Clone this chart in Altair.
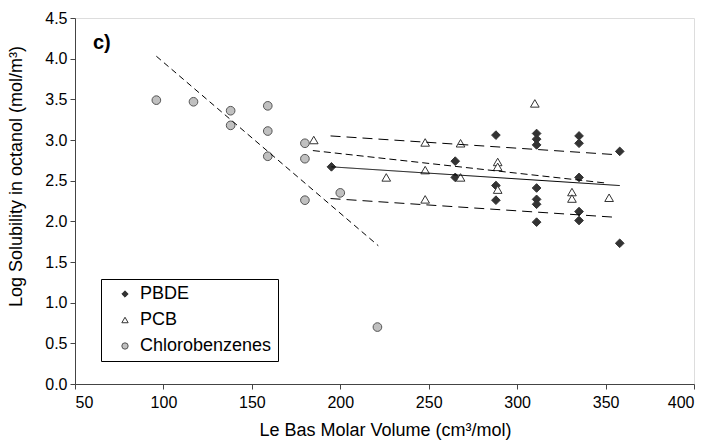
import altair as alt
import pandas as pd

# --- data ---
pbde_x = [195, 265, 265, 288, 288, 288, 311, 311, 311, 311, 311, 311, 311, 335, 335, 335, 335, 335, 358, 358]
pbde_y = [2.67, 2.74, 2.54, 3.06, 2.44, 2.26, 3.08, 3.01, 2.94, 2.41, 2.27, 2.21, 1.99, 3.05, 2.96, 2.54, 2.12, 2.01, 2.86, 1.73]

pcb_x = [185, 226, 248, 248, 248, 268, 268, 289, 289, 289, 310, 331, 331, 352]
pcb_y = [3.00, 2.54, 2.97, 2.63, 2.27, 2.96, 2.54, 2.73, 2.67, 2.39, 3.45, 2.36, 2.28, 2.29]

cb_x = [96, 117, 138, 138, 159, 159, 159, 180, 180, 180, 200, 221]
cb_y = [3.49, 3.47, 3.36, 3.18, 3.42, 3.11, 2.80, 2.96, 2.77, 2.26, 2.35, 0.70]

series_names = ["PBDE", "PCB", "Chlorobenzenes"]

# trend / bound lines (start and end points)
line_ids = ["cb_fit", "pbde_fit", "pcb_fit", "upper", "lower"]
line_x0 = [96, 195, 184.5, 194.5, 194.5]
line_y0 = [4.03, 2.67, 2.87, 3.05, 2.28]
line_x1 = [221.5, 358, 350.5, 355.5, 355.5]
line_y1 = [1.70, 2.44, 2.47, 2.82, 2.05]

x_ticks = [50, 100, 150, 200, 250, 300, 350, 400]
y_ticks = [0.0, 0.5, 1.0, 1.5, 2.0, 2.5, 3.0, 3.5, 4.0, 4.5]

points = pd.DataFrame({
    "volume": pbde_x + pcb_x + cb_x,
    "solubility": pbde_y + pcb_y + cb_y,
    "series": ["PBDE"] * len(pbde_x) + ["PCB"] * len(pcb_x) + ["Chlorobenzenes"] * len(cb_x),
})

lines = pd.DataFrame({
    "id": line_ids, "x0": line_x0, "y0": line_y0, "x1": line_x1, "y1": line_y1,
})

FONT = "Liberation Sans"

xscale = alt.Scale(domain=[50, 400], nice=False, zero=False)
yscale = alt.Scale(domain=[0, 4.5], nice=False, zero=False)

legend = alt.Legend(
    title=None, orient="none", legendX=26, legendY=261,
    direction="vertical",
    strokeColor="black", fillColor="white", padding=6,
    labelFontSize=18, labelFont=FONT, labelColor="black",
    symbolSize=40, symbolOffset=9, labelOffset=6, rowPadding=8,
    symbolStrokeWidth=1,
)

pts = alt.Chart(points).mark_point(size=75, filled=True, strokeWidth=1, opacity=1).encode(
    x=alt.X("volume:Q", scale=xscale, axis=alt.Axis(
        values=x_ticks, title="Le Bas Molar Volume (cm³/mol)", grid=False,
        tickSize=5, labelFontSize=16, labelPadding=5, labelFont=FONT,
        titleFont=FONT, titleFontSize=18, titleFontWeight="normal",
        titleX=310, titleY=46, titleBaseline="middle",
        domainColor="#444", tickColor="#444", labelColor="black")),
    y=alt.Y("solubility:Q", scale=yscale, axis=alt.Axis(
        values=y_ticks, format=".1f", title="Log Solubility in octanol (mol/m³)", grid=False,
        tickSize=5, labelFontSize=16, labelPadding=3, labelFont=FONT,
        titleFont=FONT, titleFontSize=18, titleFontWeight="normal",
        titleX=-59, titleY=158, titleAngle=-90, titleAlign="center", titleBaseline="middle",
        domainColor="#444", tickColor="#444", labelColor="black")),
    shape=alt.Shape("series:N", scale=alt.Scale(domain=series_names, range=["diamond", "triangle-up", "circle"]), legend=legend),
    fill=alt.Fill("series:N", scale=alt.Scale(domain=series_names, range=["#333333", "#ffffff", "#c0c0c0"]), legend=legend),
    stroke=alt.Stroke("series:N", scale=alt.Scale(domain=series_names, range=["#333333", "#333333", "#555555"]), legend=legend),
)

rules = alt.Chart(lines).mark_rule(color="black", strokeWidth=1).encode(
    x=alt.X("x0:Q", scale=xscale),
    y=alt.Y("y0:Q", scale=yscale),
    x2="x1:Q",
    y2="y1:Q",
    strokeDash=alt.StrokeDash("id:N", scale=alt.Scale(
        domain=line_ids, range=[[6, 4], [1, 0], [7, 4], [10, 6], [10, 6]]), legend=None),
)

label = alt.Chart(pd.DataFrame({"t": ["c)"]})).mark_text(
    align="left", baseline="alphabetic", fontSize=20, fontWeight="bold", font=FONT, color="black"
).encode(x=alt.value(18), y=alt.value(31), text="t:N")

chart = alt.layer(pts, rules, label).properties(
    width=619, height=366,
    autosize=alt.AutoSizeParams(type="none"),
    padding={"left": 75, "top": 18, "right": 17, "bottom": 57},
).configure_view(stroke="#999999", strokeWidth=1).configure(background="white")

chart.save("out.html", embed_options={"renderer": "svg", "actions": False})
